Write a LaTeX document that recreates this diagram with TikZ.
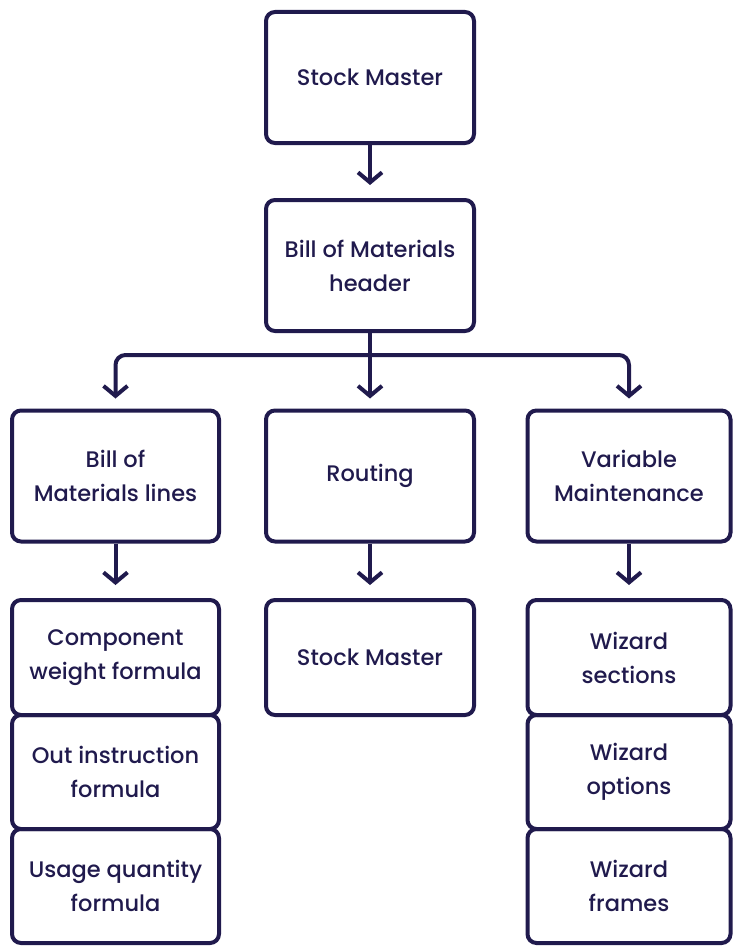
\documentclass[tikz,border=0pt]{standalone}
\usepackage{fontspec}
\setmainfont{Poppins}[UprightFont=* Medium]
\usetikzlibrary{arrows.meta}
\definecolor{navy}{RGB}{32,26,77}
\tikzset{
  box/.style={draw=navy, line width=4pt, rounded corners=9pt, minimum width=208pt, minimum height=131pt,
    inner sep=0pt, align=center, text=navy, font=\fontsize{22.5}{34}\selectfont},
  sbox/.style={box, minimum height=114pt},
  conn/.style={draw=navy, line width=4pt, -{Straight Barb[length=10pt,width=24pt]}},
}
\begin{document}
\begin{tikzpicture}[x=1pt,y=-1pt]
\useasboundingbox (0,0) rectangle (732,947);
\node[box] (top) at (370,77.5) {Stock Master};
\node[box] (bom) at (370,265.5) {Bill of Materials\\header};
\node[box, minimum width=207pt] (bl) at (115.5,476) {Bill of\\Materials lines};
\node[box] (rt) at (370,476) {Routing};
\node[box, minimum width=203pt] (vm) at (629,476) {Variable\\Maintenance};
\node[sbox, minimum width=207pt, minimum height=115pt] (cw) at (115.5,657.5) {Component\\weight formula};
\node[sbox, minimum width=207pt] (oi) at (115.5,772) {Out instruction\\formula};
\node[sbox, minimum width=207pt] (uq) at (115.5,886) {Usage quantity\\formula};
\node[sbox, minimum height=115pt] (sm) at (370,657.5) {Stock Master};
\node[sbox, minimum width=203pt, minimum height=115pt] (ws) at (629,657.5) {Wizard\\sections};
\node[sbox, minimum width=203pt] (wo) at (629,772) {Wizard\\options};
\node[sbox, minimum width=203pt] (wf) at (629,886) {Wizard\\frames};
\coordinate (j) at (370,355);
\draw[conn, shorten >=13pt] (top.south) -- (bom.north);
\draw[conn, shorten >=10pt] (bom.south) -- (rt.north);
\draw[conn, shorten >=10pt, rounded corners=10pt] (j) -| (bl.north);
\draw[conn, shorten >=10pt, rounded corners=10pt] (j) -| (vm.north);
\draw[conn, shorten >=13pt] (bl.south) -- (cw.north);
\draw[conn, shorten >=13pt] (rt.south) -- (sm.north);
\draw[conn, shorten >=13pt] (vm.south) -- (ws.north);
\end{tikzpicture}
\end{document}
